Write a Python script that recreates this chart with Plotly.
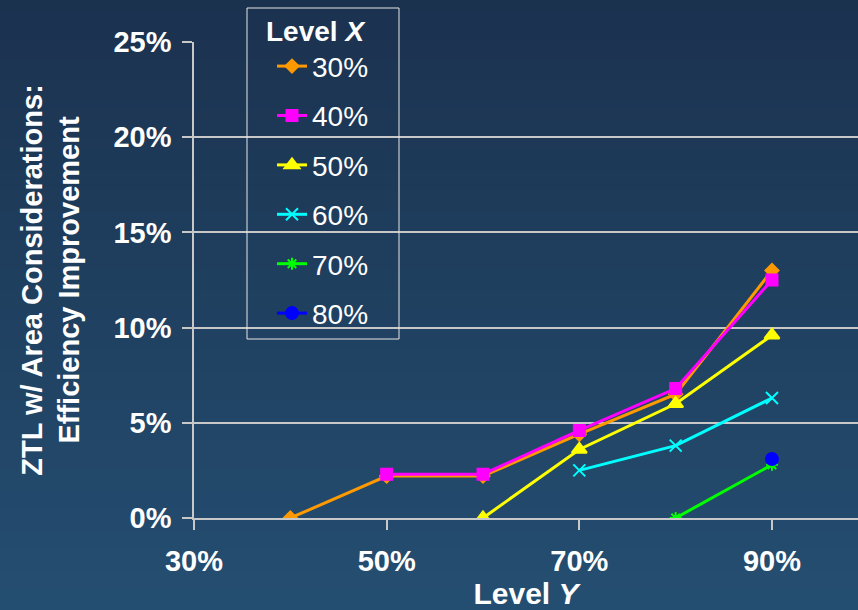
import plotly.graph_objects as go

# Efficiency improvement for each Level X series, indexed by Level Y
x30 = [0.40, 0.50, 0.60, 0.70, 0.80, 0.90]
y30 = [0.000, 0.022, 0.022, 0.044, 0.065, 0.130]

x40 = [0.50, 0.60, 0.70, 0.80, 0.90]
y40 = [0.023, 0.023, 0.046, 0.068, 0.125]

x50 = [0.60, 0.70, 0.80, 0.90]
y50 = [0.000, 0.036, 0.060, 0.096]

x60 = [0.70, 0.80, 0.90]
y60 = [0.025, 0.038, 0.063]

x70 = [0.80, 0.90]
y70 = [0.000, 0.028]

x80 = [0.90]
y80 = [0.031]

series_names = ["30%", "40%", "50%", "60%", "70%", "80%"]
x_ticks = [0.3, 0.5, 0.7, 0.9]

FONT = "Liberation Sans, Arial, sans-serif"

styles = [
    dict(color="#FF9900", symbol="diamond", size=10),
    dict(color="#FF00FF", symbol="square", size=11),
    dict(color="#FFFF00", symbol="triangle-up", size=13),
    dict(color="#00FFFF", symbol="x-thin", size=12),
    dict(color="#00FF00", symbol="asterisk", size=10),
    dict(color="#0000FF", symbol="circle", size=12),
]
xs = [x30, x40, x50, x60, x70, x80]
ys = [y30, y40, y50, y60, y70, y80]

fig = go.Figure()
for i, (name, xv, yv, st) in enumerate(zip(series_names, xs, ys, styles)):
    fig.add_trace(go.Scatter(
        x=xv, y=yv, name=name, mode="lines+markers",
        legendgroup=f"g{i}",
        line=dict(color=st["color"], width=3),
        marker=dict(color=st["color"], symbol=st["symbol"], size=st["size"],
                    line=dict(color=st["color"], width=2)),
    ))

# Page geometry
W, H = 858, 610
ml, mr, mt, mb = 194, 0, 42, 92
pw, ph = W - ml - mr, H - mt - mb


def px_x(v):
    return (v - ml) / pw


def px_y(v):
    return (H - mb - v) / ph


# Vertical background gradient built from thin paper-referenced strips
top_rgb = (27, 50, 79)
bot_rgb = (36, 78, 113)
n = 61
shapes = []
for k in range(n):
    t = k / (n - 1)
    c = tuple(round(a + (b - a) * t) for a, b in zip(top_rgb, bot_rgb))
    y0_px = k * H / n
    y1_px = (k + 1) * H / n + 1
    shapes.append(dict(
        type="rect", xref="paper", yref="paper", layer="below",
        x0=px_x(0), x1=px_x(W),
        y0=px_y(y1_px), y1=px_y(y0_px),
        fillcolor=f"rgb{c}", line=dict(width=0),
    ))

# Frame around the legend
shapes.append(dict(
    type="rect", xref="paper", yref="paper", layer="above",
    x0=px_x(247), x1=px_x(399), y0=px_y(339), y1=px_y(8),
    line=dict(color="#e6e6e6", width=1), fillcolor="rgba(0,0,0,0)",
))

fig.update_layout(
    width=W, height=H,
    margin=dict(l=ml, r=mr, t=mt, b=mb),
    paper_bgcolor="rgba(0,0,0,0)",
    plot_bgcolor="rgba(0,0,0,0)",
    shapes=shapes,
    font=dict(family=FONT, color="white"),
    showlegend=True,
    legend=dict(
        x=px_x(264), y=px_y(5),
        xanchor="left", yanchor="top",
        bgcolor="rgba(0,0,0,0)",
        borderwidth=0,
        font=dict(family=FONT, size=28, color="white"),
        title=dict(text="<b>Level <i>X</i></b>", side="top",
                   font=dict(family=FONT, size=28, color="white")),
        traceorder="grouped", tracegroupgap=10,
        itemwidth=30, indentation=8,
        maxheight=420,
    ),
    xaxis=dict(
        range=[0.3, 0.3 + pw / 963.3],
        tickvals=x_ticks, tickformat=".0%",
        tickfont=dict(family=FONT, size=29, color="white", weight="bold"),
        ticks="outside", ticklen=10, tickcolor="#c8c8c8", tickwidth=1.5,
        showgrid=False, zeroline=False,
        showline=True, linecolor="#c8c8c8", linewidth=2,
        ticklabelstandoff=6,
        title=dict(text="<b>Level <i>Y</i></b>",
                   font=dict(family=FONT, size=30, color="white"), standoff=2),
    ),
    yaxis=dict(
        range=[0, 0.25], dtick=0.05, tickformat=".0%",
        tickfont=dict(family=FONT, size=29, color="white", weight="bold"),
        ticks="outside", ticklen=10, tickcolor="#c8c8c8", tickwidth=1.5,
        showgrid=True, gridcolor="#c8c8c8", gridwidth=1.5,
        zeroline=False,
        showline=True, linecolor="#c8c8c8", linewidth=1.5,
        ticklabelstandoff=5,
        title=dict(text="<b>ZTL w/ Area Considerations:<br>Efficiency Improvement</b>",
                   font=dict(family=FONT, size=29, color="white"), standoff=25),
    ),
)

fig.write_html("out.html")
